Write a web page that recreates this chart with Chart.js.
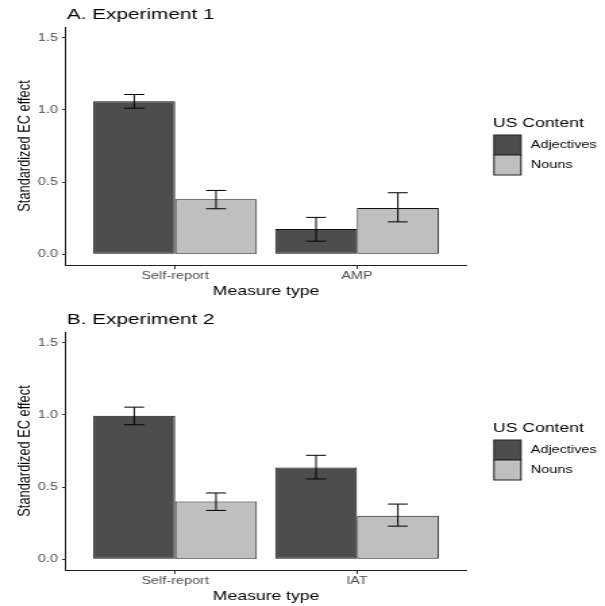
<!DOCTYPE html>
<html>
<head>
<meta charset="utf-8">
<script src="https://cdn.jsdelivr.net/npm/chart.js@4.4.1/dist/chart.umd.min.js"></script>
<style>
  html, body { margin: 0; padding: 0; background: #fff; overflow: hidden; width: 605px; height: 606px; }
  /* the reference figure is stretched horizontally, so the panels are drawn narrow and widened */
  .panel { position: absolute; left: 0; transform: scaleX(1.3504); transform-origin: 0 0; }
</style>
</head>
<body>
<canvas id="chartA" class="panel" width="448" height="303" style="top:0px"></canvas>
<canvas id="chartB" class="panel" width="448" height="303" style="top:305px"></canvas>
<script>
const seriesNames = ["Adjectives", "Nouns"];
const seriesColors = ["#4D4D4D", "#BFBFBF"];
const yTicks = [0, 0.5, 1.0, 1.5];

// Experiment 1
const categoriesA = ["Self-report", "AMP"];
const adjA = [1.06, 0.174];
const adjLoA = [1.012, 0.09];
const adjHiA = [1.107, 0.255];
const nounA = [0.38, 0.32];
const nounLoA = [0.315, 0.224];
const nounHiA = [0.442, 0.426];

// Experiment 2
const categoriesB = ["Self-report", "IAT"];
const adjB = [0.994, 0.635];
const adjLoB = [0.932, 0.556];
const adjHiB = [1.054, 0.72];
const nounB = [0.40, 0.301];
const nounLoB = [0.338, 0.229];
const nounHiB = [0.459, 0.382];

const FONT = '"Liberation Sans", Arial, sans-serif';
Chart.defaults.font.family = FONT;

const panelDecor = {
  id: "panelDecor",
  afterDatasetsDraw(chart, args, opts) {
    const ctx = chart.ctx;
    const xs = chart.scales.x, ys = chart.scales.y;
    const half = xs.getPixelForValue(1 + opts.capWidth / 2) - xs.getPixelForValue(1);
    ctx.save();
    ctx.strokeStyle = "#000";
    ctx.lineWidth = 1;
    chart.data.datasets.forEach((ds, di) => {
      chart.getDatasetMeta(di).data.forEach((bar, i) => {
        const cx = bar.x;
        const top = ys.getPixelForValue(ds.errHi[i]);
        const bot = ys.getPixelForValue(ds.errLo[i]);
        ctx.beginPath();
        ctx.moveTo(cx, top); ctx.lineTo(cx, bot);
        ctx.moveTo(cx - half, top); ctx.lineTo(cx + half, top);
        ctx.moveTo(cx - half, bot); ctx.lineTo(cx + half, bot);
        ctx.stroke();
      });
    });
    ctx.restore();
  },
  afterDraw(chart, args, opts) {
    const ctx = chart.ctx;
    const area = chart.chartArea;
    ctx.save();
    // panel title
    ctx.fillStyle = "#000";
    ctx.textAlign = "left";
    ctx.textBaseline = "alphabetic";
    ctx.font = "15.4px " + FONT;
    ctx.fillText(opts.title, area.left + 0.5, 18.5);
    // legend
    const L = area.right + 20;
    const cy = (area.top + area.bottom) / 2;
    ctx.textBaseline = "middle";
    ctx.font = "13px " + FONT;
    ctx.fillText("US Content", L, cy - 23);
    ctx.font = "10.7px " + FONT;
    chart.data.datasets.forEach((ds, i) => {
      const by = cy - 11 + i * 20;
      ctx.fillStyle = ds.backgroundColor;
      ctx.fillRect(L + 0.7, by, 20, 20);
      ctx.strokeStyle = "#222";
      ctx.lineWidth = 1;
      ctx.strokeRect(L + 0.7, by, 20, 20);
      ctx.fillStyle = "#000";
      ctx.fillText(ds.label, L + 28, by + 10.5);
    });
    ctx.restore();
  }
};

function makeChart(id, title, categories, means, los, his) {
  const datasets = seriesNames.map((name, s) => ({
    label: name,
    data: categories.map((c, i) => ({ x: i + 1, y: means[s][i] })),
    errLo: los[s],
    errHi: his[s],
    backgroundColor: seriesColors[s],
    borderColor: "#111",
    borderWidth: 1,
    borderSkipped: false,
    categoryPercentage: 0.9,
    barPercentage: 1.0
  }));
  return new Chart(document.getElementById(id), {
    type: "bar",
    data: { datasets },
    plugins: [panelDecor],
    options: {
      responsive: false,
      animation: false,
      events: [],
      layout: { padding: { top: 27, right: 102.9, left: 0, bottom: 0 } },
      plugins: {
        legend: { display: false },
        tooltip: { enabled: false },
        panelDecor: { title: title, capWidth: 0.11 }
      },
      scales: {
        x: {
          type: "linear",
          bounds: "data",
          min: 0.4,
          max: 2.6,
          offset: false,
          afterBuildTicks: (sc) => { sc.ticks = categories.map((c, i) => ({ value: i + 1 })); },
          afterFit: (sc) => { sc.height = 38; },
          ticks: {
            autoSkip: false,
            maxRotation: 0,
            padding: 1,
            color: "#4D4D4D",
            font: { size: 10.7 },
            callback: (v) => categories[Math.round(v) - 1]
          },
          grid: { display: true, offset: false, drawOnChartArea: false, drawTicks: true, tickLength: 4, color: "#333" },
          border: { display: true, color: "#222", width: 1 },
          title: { display: true, text: "Measure type", color: "#000", font: { size: 13 }, padding: { top: 0, bottom: 3.5 } }
        },
        y: {
          min: -0.075,
          max: 1.575,
          afterBuildTicks: (sc) => { sc.ticks = yTicks.map(v => ({ value: v })); },
          afterFit: (sc) => { sc.width = 48.9; },
          ticks: {
            padding: 3,
            color: "#4D4D4D",
            font: { size: 10.7 },
            callback: (v) => Number(v).toFixed(1)
          },
          grid: { display: true, offset: false, drawOnChartArea: false, drawTicks: true, tickLength: 3, color: "#333" },
          border: { display: true, color: "#222", width: 1 },
          title: { display: true, text: "Standardized EC effect", color: "#000", font: { size: 12.8 }, padding: { top: 10.3, bottom: 0 } }
        }
      }
    }
  });
}

makeChart("chartA", "A. Experiment 1", categoriesA, [adjA, nounA], [adjLoA, nounLoA], [adjHiA, nounHiA]);
makeChart("chartB", "B. Experiment 2", categoriesB, [adjB, nounB], [adjLoB, nounLoB], [adjHiB, nounHiB]);
</script>
</body>
</html>
